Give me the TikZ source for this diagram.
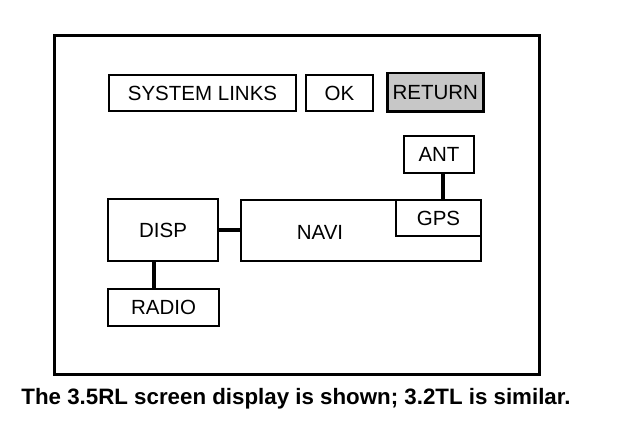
\documentclass[tikz,border=0pt]{standalone}
\usepackage{fontspec}
\setmainfont{Liberation Sans}
\begin{document}
\begin{tikzpicture}[x=1pt,y=-1pt,
  box/.style={draw=black, line width=2pt, anchor=north west, inner sep=0pt, font=\fontsize{20.5}{22}\selectfont},
  link/.style={line width=4pt},
  frame/.style={draw=black, line width=3pt}]
\useasboundingbox (0,0) rectangle (624,436);
\node[frame, anchor=north west, minimum width=485pt, minimum height=339pt, inner sep=0pt] (screen) at (53,34) {};
\node[box, minimum width=187pt, minimum height=36pt] (syslinks) at (108,74) {SYSTEM LINKS};
\node[box, minimum width=67pt, minimum height=36pt] (ok) at (305,74) {OK};
\node[box, fill=black!22, line width=2.5pt, minimum width=96pt, minimum height=38pt] (return) at (386,72) {RETURN};
\node[box, minimum width=70pt, minimum height=37pt] (ant) at (403,135) {ANT};
\node[box, minimum width=240pt, minimum height=61pt] (navi) at (240,199) {};
\node[font=\fontsize{20.5}{22}\selectfont, inner sep=0pt] (navitext) at (320,232) {NAVI};
\node[box, minimum width=85pt, minimum height=36pt] (gps) at (395,199) {GPS};
\node[box, minimum width=110pt, minimum height=62pt] (disp) at (107,198) {DISP};
\node[box, minimum width=111pt, minimum height=37pt] (radio) at (107,288) {RADIO};
\draw[link] (disp.east) -- (disp.east -| navi.west);
\draw[link] ([xshift=-9pt]disp.south) -- ([xshift=-9pt]disp.south |- radio.north);
\draw[link] ([xshift=4pt]ant.south) -- ([xshift=4pt]ant.south |- gps.north);
\node[font=\fontsize{22.3}{24}\selectfont\bfseries, inner sep=0pt] (caption) at (296,399) {The 3.5RL screen display is shown; 3.2TL is similar.};
\end{tikzpicture}
\end{document}
